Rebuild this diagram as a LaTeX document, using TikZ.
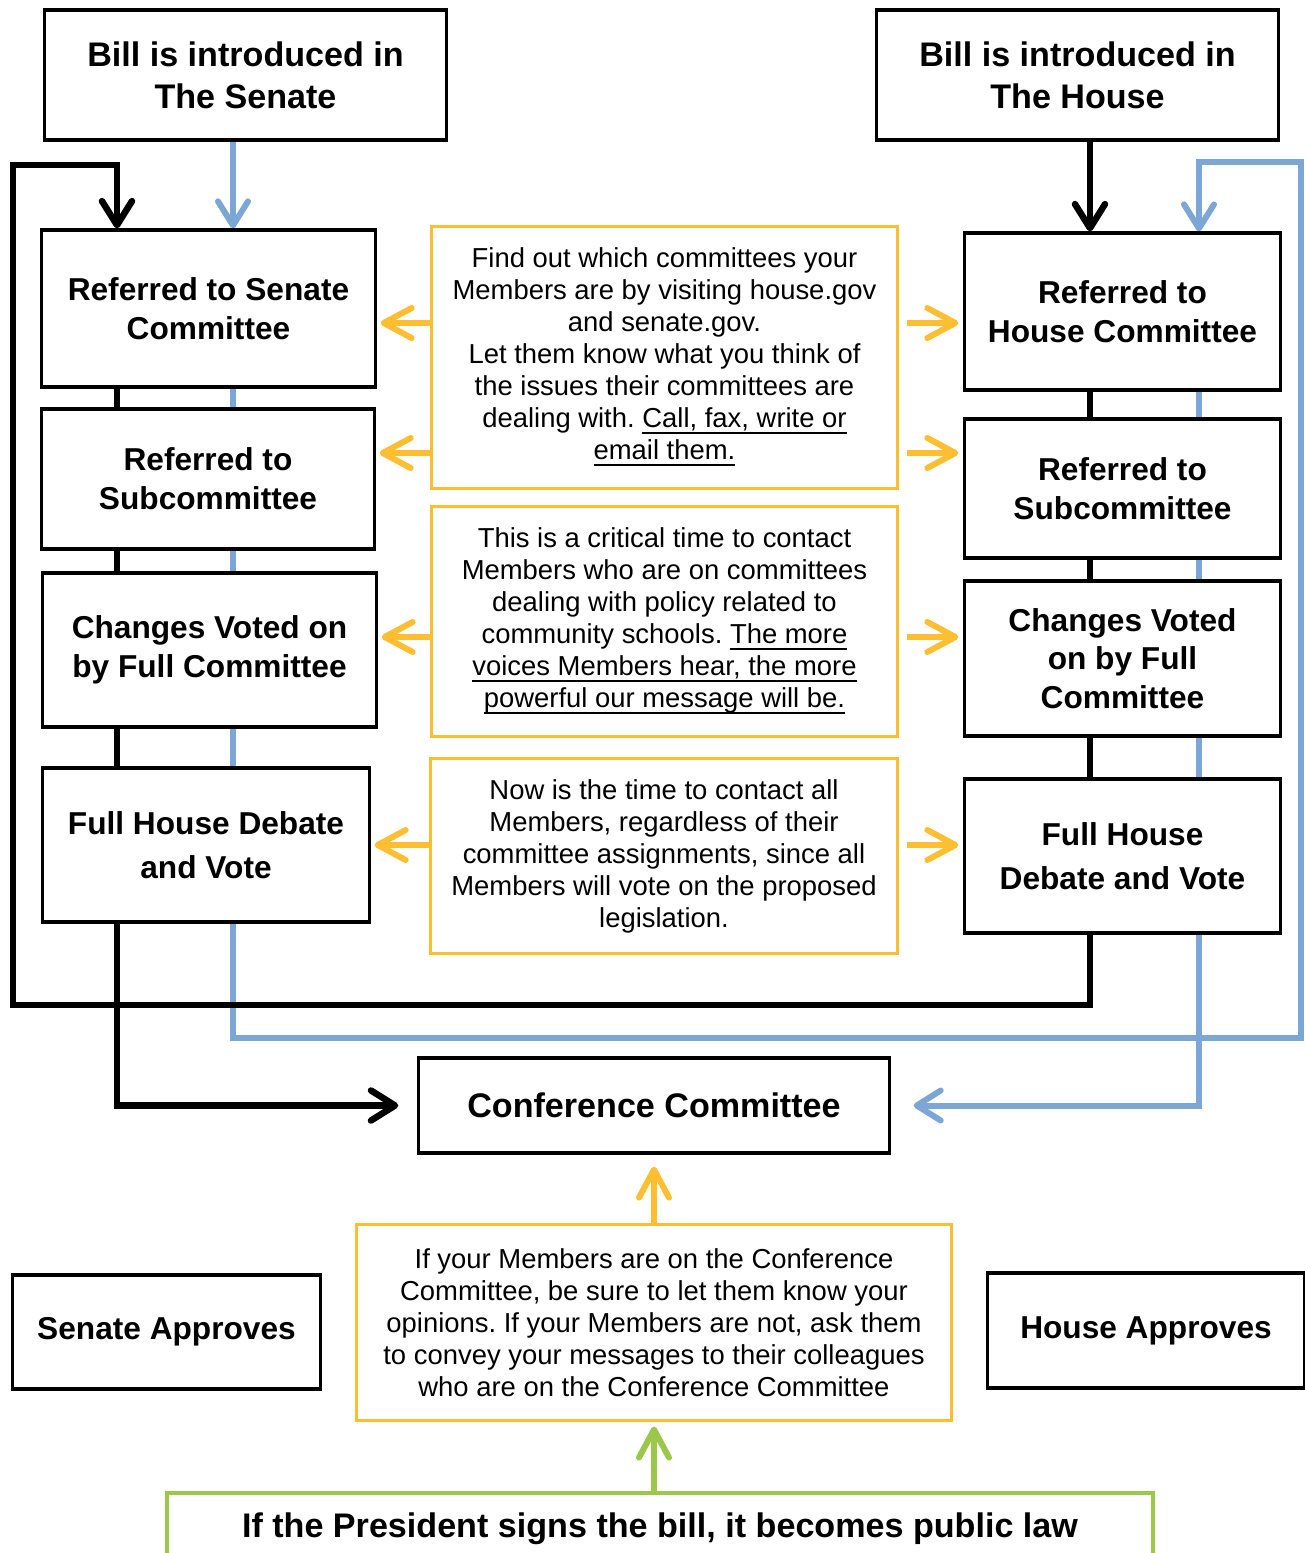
\documentclass[tikz,border=0pt]{standalone}
\usepackage{fontspec}
\setmainfont{Liberation Sans}
\usetikzlibrary{arrows.meta,backgrounds}
\definecolor{billblue}{RGB}{124,166,214}
\definecolor{tipgold}{RGB}{253,190,50}
\definecolor{lawgreen}{RGB}{155,200,75}
\newcommand{\ulink}[1]{\underline{\smash{#1}}}
\frenchspacing
\begin{document}
\begin{tikzpicture}[x=0.01cm,y=-0.01cm,
        stepbox/.style={draw,line width=0.9pt,fill=white,align=center,inner sep=0pt,
            font=\fontsize{9}{11}\selectfont\bfseries},
        bigbox/.style={stepbox,font=\fontsize{9.7}{12}\selectfont\bfseries},
        tipbox/.style={draw=tipgold,line width=0.85pt,fill=white,align=center,inner sep=0pt,
            font=\fontsize{7.8}{9.1}\selectfont},
        flowtip/.style={-{Straight Barb[round,length=0.24cm,width=0.3cm]}},
        blackflow/.style={line width=1.85pt},
        blueflow/.style={line width=1.7pt,draw=billblue},
        tiparrow/.style={line width=1.7pt,draw=tipgold,-{Straight Barb[round,length=0.28cm,width=0.3cm]}}]
        \path[use as bounding box] (0,0) rectangle (1305,1553);
        \clip (0,0) rectangle (1305,1553);
        %% bill introduced
        \node[bigbox,minimum width=4.01cm,minimum height=1.3cm] (bs) at (245.5,75) {Bill is introduced in\\The Senate};
        \node[bigbox,minimum width=4.01cm,minimum height=1.3cm] (bh) at (1077.5,75) {Bill is introduced in\\The House};
        %% senate column
        \node[stepbox,minimum width=3.33cm,minimum height=1.57cm] (lsc) at (208.5,308.5) {Referred to Senate\\Committee};
        \node[stepbox,minimum width=3.32cm,minimum height=1.4cm] (lsub) at (208,479) {Referred to\\Subcommittee};
        \node[stepbox,minimum width=3.33cm,minimum height=1.54cm] (lchg) at (209.5,650) {Changes Voted on\\by Full Committee};
        \node[stepbox,minimum width=3.26cm,minimum height=1.54cm,font=\fontsize{9}{12.5}\selectfont\bfseries] (lfull) at (206,845) {Full House Debate\\and Vote};
        %% house column
        \node[stepbox,minimum width=3.15cm,minimum height=1.57cm] (rcom) at (1122.5,311.5) {Referred to\\House Committee};
        \node[stepbox,minimum width=3.15cm,minimum height=1.39cm] (rsub) at (1122.5,488.5) {Referred to\\Subcommittee};
        \node[stepbox,minimum width=3.15cm,minimum height=1.55cm] (rchg) at (1122.5,658.5) {Changes Voted\\on by Full\\Committee};
        \node[stepbox,minimum width=3.15cm,minimum height=1.54cm,font=\fontsize{9}{12.5}\selectfont\bfseries] (rfull) at (1122.5,856) {Full House\\Debate and Vote};
        %% advice boxes
        \node[tipbox,minimum width=4.65cm,minimum height=2.61cm] (o1) at (664.5,357.5) {Find out which committees your\\Members are by visiting house.gov\\and senate.gov.\\Let them know what you think of\\the issues their committees are\\dealing with. \ulink{Call, fax, write or}\\\ulink{email them.}};
        \node[tipbox,minimum width=4.65cm,minimum height=2.29cm] (o2) at (664.5,621.5) {This is a critical time to contact\\Members who are on committees\\dealing with policy related to\\community schools. \ulink{The more}\\\ulink{voices Members hear, the more}\\\ulink{powerful our message will be.}};
        \node[tipbox,minimum width=4.66cm,minimum height=1.94cm] (o3) at (664,856) {Now is the time to contact all\\Members, regardless of their\\committee assignments, since all\\Members will vote on the proposed\\legislation.};
        \node[tipbox,minimum width=5.94cm,minimum height=1.95cm] (o4) at (654,1322.5) {If your Members are on the Conference\\Committee, be sure to let them know your\\opinions. If your Members are not, ask them\\to convey your messages to their colleagues\\who are on the Conference Committee};
        %% conference and approval
        \node[bigbox,minimum width=4.7cm,minimum height=0.95cm] (conf) at (654,1105.5) {Conference Committee};
        \node[stepbox,minimum width=3.07cm,minimum height=1.14cm] (sapp) at (166.5,1332) {Senate Approves};
        \node[stepbox,minimum width=3.16cm,minimum height=1.15cm] (happ) at (1146,1330.5) {House Approves};
        \node[bigbox,draw=lawgreen,line width=1.15pt,minimum width=9.86cm,minimum height=0.72cm] (pres) at (660,1529) {If the President signs the bill, it becomes public law};
        %% flow lines
        \coordinate (lk) at (117,0);
        \coordinate (lb) at (233,0);
        \coordinate (rk) at (1090,0);
        \coordinate (rb) at (1199,0);
        \coordinate (kbl) at (13,1005);
        \coordinate (ktl) at (13,165);
        \coordinate (bbr) at (1301,1038);
        \coordinate (btr) at (1301,162);
        \begin{scope}[on background layer]
            \draw[blueflow,flowtip] (bs.south -| lb) -- (lsc.north -| lb);
            \draw[blackflow,flowtip] (bh.south -| rk) -- (rcom.north -| rk);
            \foreach \a/\b in {lsc/lsub,lsub/lchg,lchg/lfull} {
                \draw[blueflow] (\a.south -| lb) -- (\b.north -| lb);
                \draw[blackflow] (\a.south -| lk) -- (\b.north -| lk);
            }
            \foreach \a/\b in {rcom/rsub,rsub/rchg,rchg/rfull} {
                \draw[blueflow] (\a.south -| rb) -- (\b.north -| rb);
                \draw[blackflow] (\a.south -| rk) -- (\b.north -| rk);
            }
            \draw[blueflow,flowtip] (lfull.south -| lb) |- (bbr) -- (btr) -| (rcom.north -| rb);
            \draw[blueflow,flowtip,shorten >=0.23cm] (rfull.south -| rb) |- (conf.east);
            \draw[blackflow,flowtip] (rfull.south -| rk) |- (kbl) -- (ktl) -| (lsc.north -| lk);
            \draw[blackflow,flowtip,shorten >=0.19cm] (lfull.south -| lk) |- (conf.west);
        \end{scope}
        %% advice arrows
        \coordinate (t1) at (0,323);
        \coordinate (t2) at (0,453);
        \coordinate (t3) at (0,637);
        \coordinate (t4) at (0,845);
        \foreach \o/\t/\l/\r in {o1/t1/lsc/rcom,o1/t2/lsub/rsub,o2/t3/lchg/rchg,o3/t4/lfull/rfull} {
            \draw[tiparrow,shorten >=0.04cm] (\o.west |- \t) -- (\l.east |- \t);
            \draw[tiparrow,shorten <=0.08cm,shorten >=0.05cm] (\o.east |- \t) -- (\r.west |- \t);
        }
        \draw[tiparrow,shorten >=0.12cm] (o4.north) -- (conf.south);
        \draw[tiparrow,draw=lawgreen,shorten >=0.05cm] (pres.north -| o4.south) -- (o4.south);
    \end{tikzpicture}
\end{document}
